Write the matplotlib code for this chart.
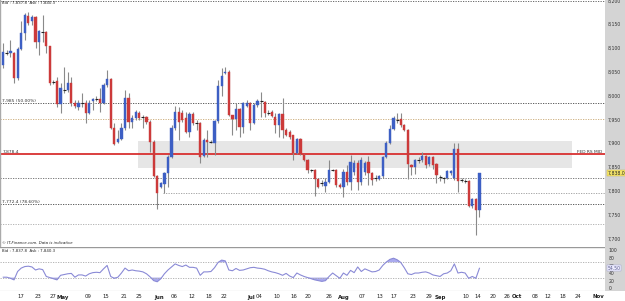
import matplotlib
matplotlib.use("Agg")
import matplotlib.pyplot as plt
from matplotlib.patches import Rectangle
import matplotlib.transforms as mtransforms
from matplotlib import font_manager

# ---------------- data ----------------
opens = [8066, 8091, 8091, 8091, 8038, 8099, 8133, 8168, 8158, 8166, 8114, 8135, 8135, 8105, 8030, 8032, 7984, 8012, 8013, 8028,
         7986, 7977, 7985, 7986, 7965, 7990, 7993, 7994, 7986, 8024, 8036, 7933, 7904, 7910, 7933, 7996, 7946, 7954, 7965, 7956,
         7956, 7946, 7904, 7832, 7809, 7816, 7839, 7872, 7933, 7967, 7965, 7954, 7925, 7963, 7943, 7944, 7874, 7908, 7904, 7902,
         7948, 8021, 8049, 8051, 7960, 7952, 7973, 7935, 7979, 7986, 7944, 7982, 7989, 7988, 7965, 7967, 7956, 7940, 7963, 7929,
         7925, 7918, 7881, 7910, 7877, 7866, 7845, 7845, 7826, 7817, 7811, 7820, 7845, 7845, 7814, 7809, 7841, 7820, 7841, 7860,
         7820, 7841, 7862, 7839, 7828, 7826, 7832, 7872, 7902, 7931, 7950, 7952, 7940, 7929, 7856, 7851, 7866, 7866, 7874, 7858,
         7872, 7858, 7830, 7828, 7828, 7839, 7828, 7889, 7824, 7822, 7822, 7769, 7784, 7761]
highs = [8112, 8097, 8118, 8093, 8103, 8158, 8175, 8177, 8171, 8168, 8139, 8171, 8136, 8106, 8034, 8040, 8028, 8061, 8051, 8040,
         7992, 7992, 8007, 7992, 7992, 7996, 8000, 8017, 8028, 8055, 8038, 7944, 7929, 7944, 8013, 8007, 7961, 7971, 7969, 7961,
         7958, 7950, 7908, 7834, 7820, 7841, 7877, 7940, 7979, 7977, 7971, 7967, 7967, 7967, 7950, 7946, 7912, 7929, 7908, 7950,
         8034, 8059, 8061, 8055, 7961, 7986, 7975, 7988, 7992, 7988, 7986, 7994, 8009, 7990, 7971, 7971, 7965, 7965, 7996, 7933,
         7929, 7919, 7912, 7912, 7879, 7867, 7847, 7847, 7828, 7824, 7828, 7866, 7847, 7847, 7818, 7847, 7856, 7877, 7866, 7866,
         7872, 7864, 7874, 7841, 7835, 7835, 7874, 7906, 7940, 7958, 7965, 7965, 7942, 7931, 7858, 7868, 7872, 7883, 7877, 7874,
         7874, 7860, 7835, 7830, 7845, 7845, 7902, 7902, 7828, 7826, 7824, 7786, 7786, 7839]
lows = [8059, 8086, 8082, 8028, 8034, 8097, 8118, 8150, 8150, 8101, 8086, 8114, 8091, 8024, 8026, 7977, 7965, 8007, 8009, 7979,
        7975, 7971, 7977, 7944, 7963, 7971, 7990, 7967, 7984, 8019, 7931, 7898, 7902, 7908, 7929, 7933, 7933, 7950, 7950, 7933,
        7942, 7883, 7830, 7763, 7807, 7797, 7809, 7870, 7929, 7908, 7946, 7923, 7914, 7940, 7929, 7860, 7872, 7872, 7902, 7877,
        7944, 8000, 8047, 7958, 7918, 7929, 7914, 7923, 7977, 7929, 7942, 7977, 7956, 7956, 7961, 7956, 7923, 7914, 7912, 7916,
        7910, 7866, 7879, 7877, 7864, 7839, 7841, 7790, 7807, 7811, 7799, 7818, 7843, 7809, 7807, 7788, 7814, 7803, 7835, 7803,
        7814, 7835, 7814, 7814, 7822, 7824, 7828, 7870, 7900, 7929, 7944, 7935, 7927, 7826, 7835, 7837, 7860, 7862, 7849, 7853,
        7847, 7818, 7822, 7818, 7826, 7835, 7824, 7799, 7820, 7818, 7767, 7765, 7708, 7746]
closes = [8093, 8092, 8095, 8038, 8099, 8133, 8171, 8154, 8166, 8114, 8137, 8134, 8105, 8028, 8031, 7984, 8017, 8013, 8028, 7986,
          7979, 7986, 7986, 7965, 7986, 7994, 7994, 7986, 8024, 8036, 7933, 7900, 7910, 7933, 7996, 7946, 7954, 7967, 7954, 7957,
          7946, 7904, 7832, 7797, 7818, 7839, 7872, 7933, 7967, 7946, 7950, 7925, 7963, 7944, 7944, 7872, 7908, 7904, 7905, 7948,
          8021, 8042, 8051, 7960, 7952, 7973, 7935, 7986, 7986, 7944, 7982, 7990, 7990, 7965, 7964, 7958, 7940, 7963, 7929, 7918,
          7914, 7881, 7910, 7879, 7866, 7845, 7844, 7826, 7809, 7818, 7820, 7845, 7846, 7814, 7809, 7841, 7820, 7862, 7860, 7820,
          7866, 7860, 7839, 7824, 7827, 7832, 7872, 7902, 7931, 7954, 7951, 7940, 7929, 7858, 7851, 7866, 7867, 7874, 7856, 7872,
          7856, 7835, 7829, 7827, 7843, 7843, 7889, 7822, 7823, 7821, 7769, 7784, 7761, 7838]

rsi = [31, 31, 28, 24, 46, 55, 59, 60, 58, 50, 53, 51, 33, 30, 27, 24, 36, 38, 40, 41,
       31, 37, 37, 34, 40, 43, 44, 43, 53, 62, 33, 28, 31, 42, 55, 48, 50, 48, 47, 45,
       40, 32, 22, 19, 27, 40, 50, 58, 66, 62, 59, 63, 57, 57, 55, 36, 45, 45, 46, 56,
       70, 76, 74, 50, 48, 54, 49, 50, 53, 56, 57, 55, 54, 52, 48, 45, 43, 40, 36, 41,
       34, 30, 42, 37, 33, 30, 27, 24, 22, 20, 22, 33, 42, 35, 28, 42, 36, 49, 43, 58,
       46, 53, 49, 45, 46, 50, 62, 71, 78, 81, 77, 70, 56, 40, 38, 42, 42, 44, 45, 42,
       37, 35, 33, 40, 42, 48, 66, 42, 44, 42, 28, 33, 28, 54.5]

tick_labels = ["17", "23", "27", "May", "09", "15", "21", "25", "Jun", "06", "12", "18", "22", "Jul", "04", "10", "16",
               "20", "26", "Aug", "07", "13", "17", "23", "29", "Sep", "10", "14", "20", "26", "Oct", "08", "12", "18",
               "24", "Nov"]
tick_pos = [4.9, 9.7, 13.9, 16.7, 23.7, 28.7, 33.7, 37.9, 43.5, 47.7, 52.7, 57.5, 61.6, 69.3, 71.5, 76.5, 81.2,
            85.1, 91.0, 95.2, 100.2, 105.2, 109.1, 114.4, 119.0, 122.0, 129.2, 132.6, 136.8, 140.7, 143.5, 148.5, 152.2, 156.4,
            160.4, 166.3]
month_labels = {"May", "Jun", "Jul", "Aug", "Sep", "Oct", "Nov"}

price_ticks = [7700, 7750, 7800, 7850, 7900, 7950, 8000, 8050, 8100, 8150, 8200]
rsi_ticks = [0, 20, 40, 60, 80, 100]

fib50 = 7985
fib786 = 7772.4
fed_mid = 7878.4
zone_low, zone_high = 7849, 7906
level_top = 8200
level_tan = 7952
level_a = 7829
level_b = 7797
level_c = 7731
zone_start, zone_end = 37.6, 158.8
level_b_start = 44.6
bid, ask = "7,837.8", "7,840.3"
last_price = 7838
last_rsi = 54.5

# ---------------- style ----------------
names = {f.name for f in font_manager.fontManager.ttflist}
FONT = "Liberation Sans Narrow" if "Liberation Sans Narrow" in names else "DejaVu Sans"
plt.rcParams["font.family"] = [FONT, "DejaVu Sans"]
fs_small = 2.8
fs_lab = 3.2
fs_axis = 3.3
fs_date = 3.9

# ---------------- figure ----------------
W, H = 625, 301
PW = 605  # plot width in px
fig = plt.figure(figsize=(W / 100, H / 100), dpi=100)
fig.patch.set_facecolor("white")

fig.patches.append(Rectangle((PW / W, 10 / H), (W - PW) / W, 1, transform=fig.transFigure,
                             facecolor="#d4d4d4", edgecolor="none", zorder=-5))

ax = fig.add_axes([0, 1 - 247 / H, PW / W, 247 / H])
ax2 = fig.add_axes([0, 1 - 291 / H, PW / W, 44 / H])

xmin, xmax = -0.92, (PW - 3.3) / 3.58
n = len(opens)
blue, red = "#3d5fc4", "#cc3a3a"
for a in (ax, ax2):
    a.set_xlim(xmin, xmax)
    a.set_xticks([])
    a.set_yticks([])
    for s in a.spines.values():
        s.set_visible(False)

ax.set_ylim(7683, 8202)

dot = (0, (1.5, 1.5))
ax.add_patch(Rectangle((zone_start, zone_low), zone_end - zone_start, zone_high - zone_low,
                       facecolor="#e6e6e6", edgecolor="none", zorder=0))
ax.axhline(level_top, color="#555555", lw=0.6, ls=dot, zorder=1)
ax.axhline(fib50, color="#444444", lw=0.6, ls=dot, zorder=1)
ax.axhline(level_tan, color="#c9a874", lw=0.6, ls=dot, zorder=1)
ax.axhline(level_a, color="#666666", lw=0.6, ls=dot, zorder=1)
ax.plot([level_b_start, xmax], [level_b, level_b], color="#999999", lw=0.6, ls=dot, zorder=1)
ax.axhline(fib786, color="#444444", lw=0.6, ls=dot, zorder=1)
ax.axhline(level_c, color="#aaaaaa", lw=0.6, ls=dot, zorder=1)
ax.axhline(fed_mid, color="#d83030", lw=1.3, zorder=2)
ax.axvline(xmin, color="#aaaaaa", lw=1.0)

bw = 0.62
for i in range(n):
    o, h, l, c = opens[i], highs[i], lows[i], closes[i]
    ax.vlines(i, l, h, color="#8a8a8a", lw=0.8, zorder=3)
    if abs(c - o) < 1.5:
        ax.hlines((o + c) / 2, i - bw / 2 - 0.1, i + bw / 2 + 0.1, color="#222222", lw=0.8, zorder=4)
    else:
        col = blue if c > o else red
        ax.add_patch(Rectangle((i - bw / 2, min(o, c)), bw, abs(c - o), facecolor=col,
                               edgecolor=col, lw=0.3, zorder=4))

btr = mtransforms.blended_transform_factory(ax.transAxes, ax.transData)
ax.text(0.004, 1 - 3 / 247, f"Bid : {bid}  Ask : {ask}", transform=ax.transAxes, fontsize=fs_small,
        va="center", ha="left", color="#222222")
ax.text(0.004, fib50 + 1, "7,985 (50.00%)", transform=btr, fontsize=fs_lab, va="bottom", ha="left", color="#333333")
ax.text(0.004, fed_mid + 1, "7,878.4", transform=btr, fontsize=fs_lab, va="bottom", ha="left", color="#333333")
ax.text(0.004, fib786 + 1, "7,772.4 (78.60%)", transform=btr, fontsize=fs_lab, va="bottom", ha="left", color="#333333")
ax.text(0.953, fed_mid + 1, "FED RS MID", transform=btr, fontsize=fs_lab, va="bottom", ha="left", color="#333333")
ax.text(0.004, 1 - 243 / 247, "© IT-Finance.com. Data is indicative", transform=ax.transAxes, fontsize=fs_small,
        va="center", ha="left", style="italic", color="#222222")

for p in price_ticks:
    ax.text(1.005, p, f"{p:,}", transform=btr, fontsize=fs_axis, va="center", ha="left", color="#333333",
            clip_on=False)
ax.text(1.004, last_price, f"{last_price:,.1f}", transform=btr, fontsize=fs_axis, va="center", ha="left",
        color="#222222", clip_on=False,
        bbox=dict(boxstyle="square,pad=0.12", facecolor="#f5e66a", edgecolor="#c8b040", lw=0.3))

ax2.set_ylim(-5.3, 110.5)
ax2.axhline(110.5, color="#999999", lw=1.0)
xs = list(range(len(rsi)))
ax2.axhline(70, color="#aaaaaa", lw=0.6, ls=dot)
ax2.axhline(30, color="#aaaaaa", lw=0.6, ls=dot)
ax2.fill_between(xs, rsi, 70, where=[v > 70 for v in rsi], interpolate=True, color="#aaaaee", lw=0)
ax2.fill_between(xs, rsi, 30, where=[v < 30 for v in rsi], interpolate=True, color="#aaaaee", lw=0)
ax2.plot(xs, rsi, color="#8a8ad6", lw=0.8)
ax2.text(0.004, 1 - 2 / 44, f"Bid : {bid}  Ask : {ask}", transform=ax2.transAxes, fontsize=fs_small,
         va="top", ha="left", color="#222222")
btr2 = mtransforms.blended_transform_factory(ax2.transAxes, ax2.transData)
for v in rsi_ticks:
    ax2.text(1.006, v, f"{v}", transform=btr2, fontsize=fs_axis, va="center", ha="left", color="#333333",
             clip_on=False, zorder=1)
ax2.text(1.004, last_rsi, f"{last_rsi:.2f}", transform=btr2, fontsize=fs_axis, va="center", ha="left",
         color="#555588", clip_on=False, zorder=5,
         bbox=dict(boxstyle="square,pad=0.12", facecolor="#eeeeff", edgecolor="#9999cc", lw=0.3))

ax2.axhline(-5.3, color="#999999", lw=0.8)
for lab, pos in zip(tick_labels, tick_pos):
    ax2.text(pos, -5.3 - 6 / 44 * 115.8, lab, transform=ax2.transData, fontsize=fs_date, ha="center",
             va="center", fontweight="bold" if lab in month_labels else "normal", color="#222222",
             clip_on=False)

fig.savefig("out.png", dpi=100)
